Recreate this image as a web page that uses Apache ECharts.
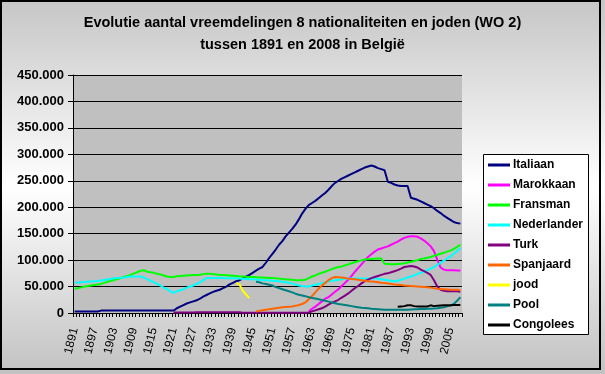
<!DOCTYPE html>
<html>
<head>
<meta charset="utf-8">
<script src="https://cdn.jsdelivr.net/npm/echarts@6/dist/echarts.min.js"></script>
<style>
html,body{margin:0;padding:0;background:#fff;}
#chart{width:605px;height:374px;}
</style>
</head>
<body>
<div id="chart"></div>
<script>
const years = [
'1891','1892','1893','1894','1895','1896','1897','1898','1899','1900',
'1901','1902','1903','1904','1905','1906','1907','1908','1909','1910',
'1911','1912','1913','1914','1915','1916','1917','1918','1919','1920',
'1921','1922','1923','1924','1925','1926','1927','1928','1929','1930',
'1931','1932','1933','1934','1935','1936','1937','1938','1939','1940',
'1941','1942','1943','1944','1945','1946','1947','1948','1949','1950',
'1951','1952','1953','1954','1955','1956','1957','1958','1959','1960',
'1961','1962','1963','1964','1965','1966','1967','1968','1969','1970',
'1971','1972','1973','1974','1975','1976','1977','1978','1979','1980',
'1981','1982','1983','1984','1985','1986','1987','1988','1989','1990',
'1991','1992','1993','1994','1995','1996','1997','1998','1999','2000',
'2001','2002','2003','2004','2005','2006','2007','2008'];

const yTicks = [0,50000,100000,150000,200000,250000,300000,350000,400000,450000];

// Italiaan from 1891
const italiaan = [
3000,3000,3000,3000,3000,3000,3000,3000,4500,4500,
4500,4500,4500,4500,4500,4500,4500,4500,4500,4500,
4500,4500,4500,4500,4500,4500,4500,4500,4500,4500,
4500,9000,12000,15000,18000,20000,22000,24000,27000,31000,
34000,37000,40000,42000,44000,47000,50000,54000,57000,60000,
62000,65000,69000,72000,76000,80000,84000,87000,95000,104000,
112000,120000,129000,136000,145000,152000,159000,167000,177000,188000,
197000,204000,208000,212000,217000,222000,227000,233000,240000,246000,
250000,254000,257000,260000,263000,266000,269000,272000,275000,277000,
279000,277000,274000,272000,270000,248000,246000,243000,241000,240000,
240000,240000,218000,216000,214000,211000,208000,205000,202000,198000,
193000,189000,184000,180000,176000,172000,170000,169000];

// Marokkaan from 1962
const marokkaanStart = '1962';
const marokkaan = [
3000,8000,12000,17000,22000,27000,30000,35000,40000,
45000,51000,57000,63000,70000,78000,85000,92000,99000,106000,
111000,116000,120000,122000,124000,126000,129000,132000,135000,139000,
142000,144000,145000,145000,144000,141000,137000,132000,126000,117000,
101000,86000,82000,81000,81000,81000,80500,80500];

// Fransman from 1891
const fransman = [
46000,47000,48500,50000,51000,52000,53000,54000,55000,57000,
59000,61000,62500,64000,66000,68000,70000,72000,75000,77000,
80000,81000,78000,77000,76000,74000,73000,71000,69000,68000,
68000,69500,70000,70500,71000,71500,72000,72000,72500,73500,
74000,74000,73500,73000,72000,72000,71500,71000,70500,70000,
69000,69000,68500,68000,68000,67500,67000,67000,66500,66000,
66000,65500,65000,64500,64000,63500,63000,62000,62000,62000,
63000,66000,69000,71000,74000,76000,78000,80500,83000,85000,
87000,88000,90000,92000,94000,96000,98000,99500,101000,101500,
102000,102500,103000,103000,93000,92500,92000,92000,92500,93000,
94000,95500,97000,98500,100000,102000,103000,104500,106000,108000,
110000,112000,114000,116000,118000,121000,125000,129000];

// Nederlander from 1891
const nederlander = [
57000,57500,58000,58500,59000,59500,60000,60500,61500,62500,
63500,64500,65500,66000,66500,67000,68000,69000,69000,69000,
69000,67000,64000,61000,58000,55000,52000,48000,45000,41000,
38000,41000,43000,45000,48000,50000,52000,55000,58000,62000,
66000,66000,66000,66000,66000,66000,65500,65500,65500,65500,
65000,64500,64500,64000,64000,63500,63000,62500,62000,61500,
61000,60500,60000,59000,58000,57000,55500,54000,52000,51000,
50000,50000,52000,53500,55000,56500,58000,60000,61000,62000,
63000,64000,65000,65000,65000,65000,65000,65000,65000,65000,
65000,65000,65000,64000,63000,62000,61000,60000,61000,63000,
65000,67000,69000,71000,74000,76000,78000,81000,84000,87000,
91000,95000,99000,103000,107000,112000,117000,123000];

// Turk from 1921
const turkStart = '1921';
const turk = [
800,800,800,800,800,800,800,
1500,1500,1500,1500,1500,1500,1500,1500,1500,1500,1500,1500,1500,1500,
500,500,500,500,500,500,500,500,500,500,500,500,500,500,500,500,500,500,500,500,
1000,3000,5000,7000,9000,12000,16000,19000,22000,
25000,29000,33000,37000,42000,47000,51000,56000,60000,63000,
66000,68000,70000,72000,74000,75000,77000,79000,81000,84000,
87000,88000,89000,88000,86000,82000,79000,76000,72000,62000,
50000,44000,42000,41000,41000,41000,41000,40000];

// Spanjaard from 1946
const spanjaardStart = '1946';
const spanjaard = [
3000,4000,5000,6000,7000,
8000,9000,10000,11000,11500,12000,12500,13500,15000,17000,
20000,26000,32000,39000,46000,52000,57000,62000,66000,68000,
67500,67000,66000,65000,64500,64000,63000,62000,61000,60000,
59500,59000,58000,57000,56500,56000,55000,54000,53500,53000,
52000,51500,51000,50500,50000,49500,49000,48500,48000,47000,
46000,45500,45000,44500,44000,44000,44000,43000];

// jood from 1940
const joodStart = '1940';
const jood = [57000,54000,42000,35000,28000];

// Pool from 1946
const poolStart = '1946';
const pool = [
59000,58000,56000,55000,53500,
52000,49000,47000,45000,43000,41000,39000,36500,34500,33000,
31500,30000,28500,27500,26000,24500,23000,21500,20000,18500,
17000,16000,15000,14000,13000,12000,11000,10000,9500,9000,
8000,7500,7000,6500,6000,6000,6000,6000,6000,6000,
6000,6000,6500,7000,7000,7500,7500,8000,8000,8500,
9000,10000,11000,12500,14000,17000,23000,30000];

// Congolees from 1989
const congoleesStart = '1989';
const congolees = [
12000,12500,13000,14500,14500,13000,12500,12500,12500,12500,
14500,13000,13500,14000,14500,14500,14500,15000,15000,15000];

const seriesNames = ['Italiaan','Marokkaan','Fransman','Nederlander','Turk','Spanjaard','jood','Pool','Congolees'];
const seriesColors = ['#000080','#ff00ff','#00ff00','#00ffff','#800080','#ff6600','#ffff00','#008080','#000000'];

function place(startYear, vals) {
  const start = years.indexOf(startYear);
  const out = years.map(() => null);
  vals.forEach((v, i) => { out[start + i] = v; });
  return out;
}

const seriesData = [
  place('1891', italiaan),
  place(marokkaanStart, marokkaan),
  place('1891', fransman),
  place('1891', nederlander),
  place(turkStart, turk),
  place(spanjaardStart, spanjaard),
  place(joodStart, jood),
  place(poolStart, pool),
  place(congoleesStart, congolees)
];

function fmt(v) {
  return String(v).replace(/\B(?=(\d{3})+(?!\d))/g, '.');
}

const FONT = 'Arial, "Liberation Sans", sans-serif';

const chart = echarts.init(document.getElementById('chart'), null, {renderer: 'canvas'});
chart.setOption({
  animation: false,
  backgroundColor: {
    type: 'linear', x: 0, y: 0, x2: 0, y2: 1,
    colorStops: [
      {offset: 0, color: '#c6c6c6'},
      {offset: 0.5, color: '#ffffff'},
      {offset: 1, color: '#c2c2c2'}
    ]
  },
  title: [
    {text: 'Evolutie aantal vreemdelingen 8 nationaliteiten en joden (WO 2)', left: 'center', top: 15, padding: 0,
     textStyle: {fontFamily: FONT, fontSize: 14.5, fontWeight: 'bold', color: '#000'}},
    {text: 'tussen 1891 en 2008 in België', left: 'center', top: 37, padding: 0,
     textStyle: {fontFamily: FONT, fontSize: 14.5, fontWeight: 'bold', color: '#000'}}
  ],
  graphic: [
    {type: 'rect', shape: {x: 1, y: 1, width: 599, height: 368}, style: {fill: 'none', stroke: '#000', lineWidth: 2}, silent: true},
    {type: 'rect', shape: {x: 483.5, y: 154.5, width: 105, height: 180}, style: {fill: '#fff', stroke: '#000', lineWidth: 1}, silent: true}
  ],
  legend: {
    orient: 'vertical', left: 488, top: 158, padding: 0,
    itemWidth: 22, itemHeight: 3, itemGap: 6, icon: 'rect',
    z: 10,
    textStyle: {fontFamily: FONT, fontSize: 12, fontWeight: 'bold', color: '#000', lineHeight: 14, padding: [0,0,0,-2]},
    data: seriesNames
  },
  grid: {left: 73, top: 75, width: 389, height: 238, show: true, backgroundColor: '#c0c0c0', borderWidth: 0},
  xAxis: {
    type: 'category', data: years, boundaryGap: true,
    axisLine: {show: true, lineStyle: {color: '#000', width: 1}},
    axisTick: {show: true, interval: 0, length: 4, lineStyle: {color: '#000'}},
    axisLabel: {interval: 5, rotate: 76, margin: 15, fontFamily: FONT, fontSize: 12, color: '#000'},
    splitLine: {show: false}
  },
  yAxis: {
    type: 'value', min: 0, max: 450000, interval: 50000,
    axisLine: {show: true, lineStyle: {color: '#000', width: 1}},
    axisTick: {show: true, length: 5, lineStyle: {color: '#000'}},
    axisLabel: {margin: 9, fontFamily: FONT, fontSize: 13, fontWeight: 'bold', color: '#000',
      formatter: v => fmt(v)},
    splitLine: {show: true, lineStyle: {color: '#000', width: 1}}
  },
  series: seriesNames.map((n, i) => ({
    name: n, type: 'line', data: seriesData[i], symbol: 'none', showSymbol: false,
    connectNulls: false, smooth: false,
    itemStyle: {color: seriesColors[i]},
    lineStyle: {color: seriesColors[i], width: 2}
  }))
});
</script>
</body>
</html>
